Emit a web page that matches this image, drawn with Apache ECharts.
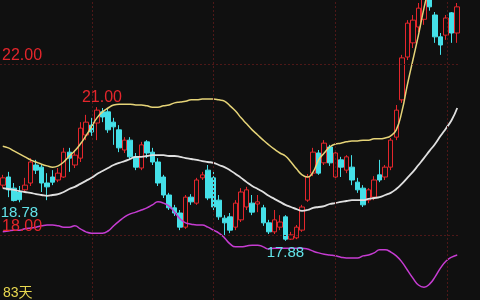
<!DOCTYPE html>
<html><head><meta charset="utf-8">
<script src="https://cdn.jsdelivr.net/npm/echarts@6/dist/echarts.min.js"></script>
<style>html,body{margin:0;padding:0;background:#101010}#c{width:480px;height:300px}</style>
</head><body><div id="c"></div>
<script>
// candles: [open, close, low, high]
const candles = [
[19.18,19.35,19.11,19.42],[19.37,19.07,18.90,19.49],[19.11,18.82,18.80,19.23],[19.02,18.84,18.78,19.16],
[19.07,19.18,19.00,19.35],[19.23,19.72,19.16,19.81],[19.65,19.53,19.44,19.77],[19.60,19.23,19.02,19.67],
[19.23,19.14,18.83,19.46],[19.37,19.25,19.18,19.53],[19.30,19.46,19.25,19.58],[19.37,19.95,19.35,20.05],
[19.95,19.81,19.49,20.05],[19.65,19.88,19.58,20.00],[19.81,20.51,19.72,20.65],[20.35,20.65,20.23,20.82],
[20.58,20.42,20.33,20.75],[20.63,20.93,20.23,21.00],[20.89,20.77,20.65,20.98],[20.89,20.47,20.40,20.96],
[20.65,20.54,20.12,20.75],[20.47,20.05,19.95,20.58],[20.00,20.23,19.93,20.30],[20.23,19.84,19.77,20.30],
[19.84,19.60,19.53,19.93],[19.58,20.12,19.53,20.19],[20.19,19.93,19.81,20.23],[19.95,19.72,19.65,20.05],
[19.72,19.23,19.16,19.81],[19.37,18.95,18.88,19.42],[18.95,18.65,18.60,19.00],[18.65,18.53,18.46,18.72],
[18.53,18.20,18.13,18.60],[18.20,18.90,18.16,18.95],[18.90,18.79,18.72,18.97],[18.76,19.30,18.72,19.35],
[19.35,19.42,19.30,19.49],[19.53,18.88,18.83,19.65],[19.35,18.67,18.60,19.53],[18.83,18.44,18.37,18.95],
[18.41,18.30,17.99,18.48],[18.44,18.13,18.06,18.53],[18.20,18.76,18.13,18.83],[18.37,19.02,18.32,19.11],
[18.67,19.07,18.60,19.14],[18.76,18.55,18.48,18.95],[18.74,18.79,18.55,18.95],[18.65,18.30,18.23,18.72],
[18.30,18.09,18.04,18.37],[18.09,18.37,18.04,18.60],[18.20,18.32,18.13,18.48],[18.44,17.92,17.88,18.48],
[17.92,18.02,17.90,18.09],[17.95,18.20,17.92,18.25],[18.13,18.67,18.09,18.72],[18.83,19.37,18.79,19.44],
[19.46,19.95,19.39,20.05],[19.93,19.46,19.42,20.00],[19.70,20.16,19.65,20.23],[20.07,19.70,19.63,20.12],
[19.37,19.93,19.30,20.00],[19.77,19.60,19.37,19.84],[19.53,19.84,19.46,19.88],[19.60,19.30,19.18,19.88],
[19.25,19.07,19.00,19.35],[19.11,18.72,18.67,19.18],[18.83,19.07,18.76,19.11],[18.90,19.30,18.83,19.39],
[19.42,19.30,19.25,19.77],[19.37,19.60,19.30,19.65],[19.60,20.23,19.53,20.28],[20.30,20.93,20.23,21.05],
[21.17,22.15,21.10,22.22],[22.17,22.96,22.10,23.03],[22.50,23.03,22.38,23.15],[22.87,23.31,22.75,23.43],
[23.05,23.55,22.92,23.70],[23.70,23.34,23.25,23.85],[23.15,22.64,22.50,23.22],[22.64,22.45,22.22,22.73],
[22.68,23.08,22.57,23.15],[23.20,22.73,22.50,23.22],[22.73,23.34,22.50,23.43]
];
const upper = [20.09,20.05,19.98,19.91,19.84,19.77,19.72,19.67,19.63,19.60,19.63,19.72,19.86,19.98,20.14,20.33,20.54,20.75,20.89,20.98,
21.05,21.07,21.07,21.07,21.05,21.05,21.03,21.00,21.00,21.03,21.05,21.10,21.12,21.14,21.17,21.17,21.19,21.19,21.19,21.17,
21.14,21.03,20.91,20.75,20.61,20.47,20.35,20.23,20.12,20.02,19.93,19.86,19.72,19.56,19.42,19.37,19.49,19.77,19.93,20.07,
20.14,20.16,20.19,20.21,20.21,20.23,20.23,20.26,20.26,20.28,20.33,20.47,20.89,21.52,22.10,22.68,23.31,23.85,24.32,24.78,
25.25,25.60,25.95];
const middle = [19.11,19.09,19.07,19.04,19.02,19.00,18.97,18.95,18.93,18.95,18.97,19.02,19.09,19.14,19.21,19.28,19.35,19.44,19.51,19.58,
19.65,19.70,19.74,19.79,19.84,19.84,19.86,19.88,19.88,19.88,19.86,19.86,19.84,19.81,19.79,19.77,19.74,19.72,19.70,19.65,
19.60,19.53,19.44,19.35,19.25,19.16,19.09,19.02,18.93,18.86,18.79,18.72,18.67,18.62,18.58,18.60,18.65,18.67,18.69,18.74,
18.76,18.79,18.81,18.83,18.83,18.83,18.86,18.88,18.90,18.95,19.00,19.09,19.21,19.35,19.49,19.65,19.81,19.98,20.14,20.33,
20.51,20.70,20.98];
const lower = [18.09,18.11,18.13,18.13,18.16,18.18,18.20,18.23,18.25,18.25,18.23,18.20,18.20,18.23,18.16,18.09,18.06,18.06,18.06,18.11,
18.23,18.34,18.44,18.51,18.55,18.60,18.65,18.72,18.79,18.76,18.69,18.55,18.39,18.30,18.27,18.25,18.25,18.20,18.13,18.06,
17.95,17.81,17.74,17.74,17.76,17.78,17.78,17.74,17.69,17.71,17.71,17.71,17.71,17.71,17.71,17.69,17.64,17.60,17.57,17.55,
17.53,17.50,17.48,17.48,17.48,17.53,17.55,17.60,17.67,17.67,17.62,17.53,17.39,17.20,17.01,16.85,16.80,16.87,17.04,17.25,
17.41,17.50,17.55];
const days = candles.map((d, i) => 'D' + (i + 1));
const priceLevels = [22, 18];
const priceLabels = ['22.00', '18.00'];
const dividerPos = [16.6, 38.43, 60.45, 80.66];
const noteIdx = [17, 51, 3];
const noteVal = [21.00, 17.88, 18.78];
const noteText = ['21.00', '17.88', '18.78'];
const periodLabel = '83天';

const RED = '#e4262c', CYAN = '#45e0e8', BG = '#101010', GRID = '#4e1818';
const chart = echarts.init(document.getElementById('c'), null, {renderer: 'canvas'});
chart.setOption({
  animation: false,
  backgroundColor: BG,
  title: {text: periodLabel, left: 3, top: 286, padding: 0,
    textStyle: {color: '#e8d850', fontSize: 14, fontWeight: 'normal', fontFamily: 'Liberation Sans, Noto Sans CJK SC'}},
  grid: {left: 0, right: 20, top: 0, bottom: 0},
  xAxis: [
    {type: 'category', data: days, show: false, boundaryGap: true},
    {type: 'value', min: 0, max: days.length, show: false}
  ],
  yAxis: {type: 'value', min: 16.5, max: 23.5, show: false, splitLine: {show: false}},
  series: [
    {type: 'line', xAxisIndex: 1, data: [], silent: true,
      markLine: {silent: true, symbol: ['none', 'none'],
        lineStyle: {color: GRID, type: [2, 2], width: 1},
        label: {show: false},
        data: dividerPos.map(v => ({xAxis: v}))
          .concat(priceLevels.map((v, i) => ({yAxis: v,
            label: {show: true, formatter: priceLabels[i], position: 'insideStartTop', distance: [2, 1],
              color: RED, fontSize: 16, fontFamily: 'Liberation Sans'}})))
      }
    },
    {type: 'candlestick', data: candles, barWidth: 5, z: 2,
      itemStyle: {color: BG, color0: CYAN, borderColor: RED, borderColor0: CYAN, borderWidth: 1},
      markPoint: {symbol: 'circle', symbolSize: 0, silent: true,
        data: noteIdx.map((ix, i) => ({coord: [ix, noteVal[i]],
          label: {show: true, formatter: noteText[i], fontFamily: 'Liberation Sans',
            color: i === 0 ? RED : '#62e2e8', fontSize: i === 0 ? 16 : 15,
            position: i === 0 ? 'top' : 'bottom', distance: i === 0 ? 2 : (i === 1 ? 5 : 3),
            offset: i === 0 ? [5, 0] : [0, 0]}}))
      }
    },
    {type: 'line', data: upper, smooth: true, showSymbol: false, z: 3,
      lineStyle: {color: '#e6d478', width: 1.5}},
    {type: 'line', data: middle, smooth: true, showSymbol: false, z: 3,
      lineStyle: {color: '#e0e0e0', width: 1.8}},
    {type: 'line', data: lower, smooth: true, showSymbol: false, z: 3,
      lineStyle: {color: '#c63cd2', width: 1.5}}
  ]
});
</script></body></html>
